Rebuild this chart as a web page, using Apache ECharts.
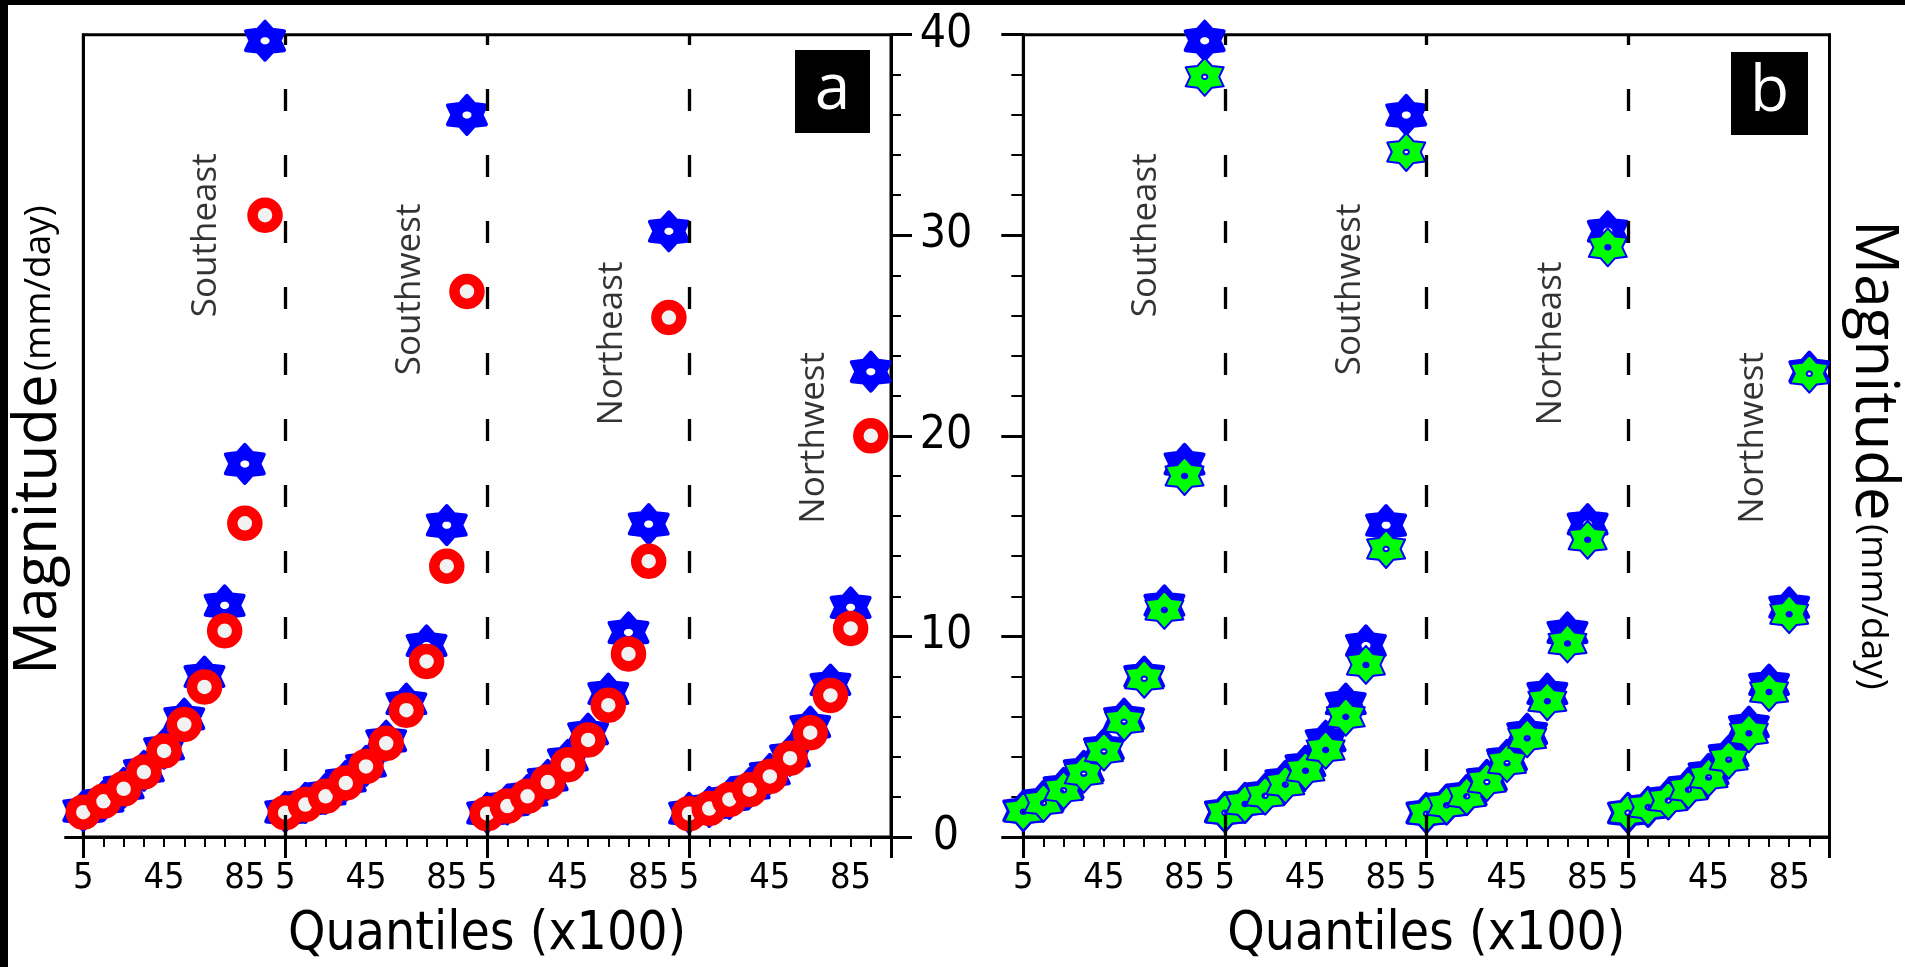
<!DOCTYPE html>
<html><head><meta charset="utf-8">
<script src="https://cdn.jsdelivr.net/npm/echarts@6/dist/echarts.min.js"></script>
<style>html,body{margin:0;padding:0;background:#fff;}#c{width:1905px;height:967px;}</style>
</head><body><div id="c"></div>
<script>
// ---- data ----
const regions = ['Southeast', 'Southwest', 'Northeast', 'Northwest'];
const quantiles = [5, 15, 25, 35, 45, 55, 65, 75, 85, 95];
const xTickLabelQuantiles = [5, 45, 85];
const yTicks = [0, 10, 20, 30, 40];
// blue stars (both panels)
const blueSE = [1.3, 1.8, 2.45, 3.3, 4.4, 5.9, 8.0, 11.55, 18.6, 39.7];
const blueSW = [1.25, 1.7, 2.15, 2.8, 3.55, 4.8, 6.65, 9.55, 15.55, 36.0];
const blueNE = [1.2, 1.62, 2.1, 2.85, 3.85, 5.15, 7.15, 10.2, 15.6, 30.2];
const blueNW = [1.2, 1.5, 1.9, 2.45, 3.15, 4.05, 5.5, 7.6, 11.45, 23.2];
// red circles (panel a)
const redSE = [1.24, 1.78, 2.40, 3.24, 4.29, 5.61, 7.48, 10.28, 15.64, 31.0];
const redSW = [1.21, 1.62, 2.03, 2.69, 3.52, 4.67, 6.32, 8.75, 13.5, 27.2];
const redNE = [1.16, 1.54, 2.03, 2.74, 3.60, 4.84, 6.57, 9.13, 13.75, 25.9];
const redNW = [1.16, 1.42, 1.87, 2.36, 3.02, 3.93, 5.20, 7.06, 10.4, 20.0];
// green stars (panel b)
const greenSE = [1.26, 1.70, 2.33, 3.15, 4.26, 5.74, 7.89, 11.32, 18.0, 37.9];
const greenSW = [1.21, 1.65, 2.06, 2.61, 3.30, 4.34, 5.99, 8.58, 14.36, 34.15];
const greenNE = [1.16, 1.58, 2.03, 2.74, 3.68, 4.92, 6.77, 9.65, 14.82, 29.4];
const greenNW = [1.21, 1.49, 1.82, 2.36, 2.97, 3.85, 5.17, 7.23, 11.11, 23.1];
// region name annotations (x in quantile-slot units, y in mm/day)
const regionLabelX = [6.1, 16.2, 26.2, 36.2];
const regionLabelY = [30.0, 27.3, 24.6, 19.9];

// ---- build ----
const nQ = quantiles.length;
const xMax = regions.length * nQ;
function flatten(groups) {
  const out = [];
  groups.forEach((vals, r) => vals.forEach((v, i) => out.push([r * nQ + i, v])));
  return out;
}
const blueData = flatten([blueSE, blueSW, blueNE, blueNW]);
const redData = flatten([redSE, redSW, redNE, redNW]);
const greenData = flatten([greenSE, greenSW, greenNE, greenNW]);
const labelData = regions.map((n, i) => ({ value: [regionLabelX[i], regionLabelY[i]], name: n }));
const boundaries = regions.slice(1).map((_, i) => (i + 1) * nQ);
const labelSlots = [];
for (let r = 0; r < regions.length; r++) xTickLabelQuantiles.forEach(q => labelSlots.push(r * nQ + quantiles.indexOf(q)));

function starPath(R, r, hole) {
  let d = '';
  for (let k = 0; k < 12; k++) {
    const a = (-90 + k * 30) * Math.PI / 180;
    const rad = k % 2 === 0 ? R : r;
    d += (k === 0 ? 'M' : 'L') + (50 + rad * Math.cos(a)).toFixed(2) + ',' + (50 + rad * Math.sin(a)).toFixed(2);
  }
  d += 'Z';
  if (hole > 0) {
    for (let k = 0; k < 16; k++) {
      const a = -k * 22.5 * Math.PI / 180;
      d += (k === 0 ? 'M' : 'L') + (50 + hole * Math.cos(a)).toFixed(2) + ',' + (50 + hole * Math.sin(a)).toFixed(2);
    }
    d += 'Z';
  }
  return 'path://' + d;
}
const blueStar = starPath(50, 33, 15);
const greenStar = starPath(50, 33, 6);

const tickFont = "'Liberation Sans Narrow', 'DejaVu Sans Condensed', 'Liberation Sans', sans-serif";
const textFont = "'Open Sans', 'Noto Sans', sans-serif";

function xAxisFor(gi) {
  return {
    type: 'value', gridIndex: gi, min: 0, max: xMax, interval: nQ,
    axisLine: { show: true, lineStyle: { color: '#000', width: 3 } },
    axisTick: { show: true, length: 21, lineStyle: { color: '#000', width: 3 } },
    minorTick: { show: true, splitNumber: nQ, length: 10, lineStyle: { color: '#000', width: 2 } },
    splitLine: { show: false },
    axisLabel: {
      customValues: labelSlots, margin: 24, color: '#000', fontSize: 36, fontFamily: tickFont,
      formatter: v => String(quantiles[Math.round(v) % nQ])
    },
    name: 'Quantiles (x100)', nameLocation: 'middle', nameGap: 72,
    nameTextStyle: { color: '#000', fontSize: 53, fontFamily: tickFont }
  };
}
function yAxisBase(gi, pos) {
  return {
    type: 'value', gridIndex: gi, position: pos, min: 0, max: 40, interval: 10,
    axisLine: { show: true, onZero: false, lineStyle: { color: '#000', width: 3 } },
    splitLine: { show: false }
  };
}
const titleRich = {
  a: { fontSize: 60, fontFamily: textFont, fill: '#000' },
  b: { fontSize: 37, fontFamily: textFont, fill: '#000' }
};

const option = {
  backgroundColor: '#fff',
  animation: false,
  grid: [
    { left: 83.3, top: 34.7, width: 807.7, height: 808, show: true, borderColor: '#000', borderWidth: 3 },
    { left: 1023.3, top: 34.7, width: 806.2, height: 808, show: true, borderColor: '#000', borderWidth: 3 }
  ],
  xAxis: [xAxisFor(0), xAxisFor(1)],
  yAxis: [
    Object.assign(yAxisBase(0, 'left'), {
      axisTick: { show: true, customValues: [0], length: 19, lineStyle: { color: '#000', width: 3 } },
      axisLabel: { show: false }
    }),
    Object.assign(yAxisBase(0, 'right'), {
      axisTick: { show: true, length: 21, lineStyle: { color: '#000', width: 3 } },
      minorTick: { show: true, splitNumber: 5, length: 10, lineStyle: { color: '#000', width: 2 } },
      axisLabel: { show: true, margin: 55, align: 'center', color: '#000', fontSize: 46, fontFamily: tickFont,
        customValues: yTicks }
    }),
    Object.assign(yAxisBase(1, 'left'), {
      axisTick: { show: true, length: 22, lineStyle: { color: '#000', width: 3 } },
      minorTick: { show: true, splitNumber: 5, length: 12, lineStyle: { color: '#000', width: 2 } },
      axisLabel: { show: false }
    }),
    Object.assign(yAxisBase(1, 'right'), {
      axisTick: { show: false }, axisLabel: { show: false }
    })
  ],
  graphic: [
    { type: 'rect', shape: { x: 0, y: 0, width: 1905, height: 5 }, style: { fill: '#000' }, silent: true },
    { type: 'rect', shape: { x: 0, y: 0, width: 8, height: 967 }, style: { fill: '#000' }, silent: true },
    { type: 'text', x: 39, y: 440, rotation: Math.PI / 2, silent: true,
      style: { text: '{a|Magnitude} {b|(mm/day)}', align: 'center', verticalAlign: 'middle', rich: titleRich } },
    { type: 'text', x: 1873, y: 455, rotation: -Math.PI / 2, silent: true,
      style: { text: '{a|Magnitude} {b|(mm/day)}', align: 'center', verticalAlign: 'middle', rich: titleRich } },
    { type: 'rect', shape: { x: 795, y: 50, width: 75, height: 83 }, style: { fill: '#000' } },
    { type: 'text', x: 832.5, y: 91, style: { text: 'a', fill: '#fff', fontSize: 64, fontFamily: textFont, align: 'center', verticalAlign: 'middle' } },
    { type: 'rect', shape: { x: 1731, y: 52, width: 77, height: 83 }, style: { fill: '#000' } },
    { type: 'text', x: 1769.5, y: 93, style: { text: 'b', fill: '#fff', fontSize: 64, fontFamily: textFont, align: 'center', verticalAlign: 'middle' } }
  ],
  series: []
};

const dashLine = {
  silent: true, symbol: ['none', 'none'], label: { show: false },
  lineStyle: { color: '#000', width: 3.3, type: [22, 44], opacity: 1 },
  data: boundaries.map(b => ({ xAxis: b }))
};
const regionLabelSeries = (xi, yi) => ({
  type: 'scatter', xAxisIndex: xi, yAxisIndex: yi, data: labelData, symbolSize: 1,
  itemStyle: { color: 'rgba(0,0,0,0)' }, silent: true, z: 1,
  label: { show: true, position: 'inside', rotate: 90, formatter: p => p.name, color: '#000', fontSize: 35, fontFamily: textFont }
});
const blueStyle = { color: '#0000ff', borderColor: '#0000ff', borderWidth: 4, borderJoin: 'round', opacity: 1 };

option.series.push(
  regionLabelSeries(0, 0),
  { type: 'scatter', xAxisIndex: 0, yAxisIndex: 0, data: blueData, symbol: blueStar, symbolSize: [38, 38],
    itemStyle: blueStyle, markLine: dashLine, z: 2 },
  { type: 'scatter', xAxisIndex: 0, yAxisIndex: 0, data: redData, symbol: 'circle', symbolSize: 25,
    itemStyle: { color: '#f2f2f2', borderColor: '#ff0000', borderWidth: 10.5, opacity: 1 }, z: 3 },
  regionLabelSeries(1, 2),
  { type: 'scatter', xAxisIndex: 1, yAxisIndex: 2, data: blueData, symbol: blueStar, symbolSize: [38, 38],
    itemStyle: blueStyle, markLine: dashLine, z: 2 },
  { type: 'scatter', xAxisIndex: 1, yAxisIndex: 2, data: greenData, symbol: greenStar, symbolSize: [38, 38],
    itemStyle: { color: '#00ff00', borderColor: '#0000ff', borderWidth: 2, borderJoin: 'round', opacity: 1 }, z: 3 }
);

const chart = echarts.init(document.getElementById('c'), null, { renderer: 'canvas' });
chart.setOption(option);
</script>
</body></html>
